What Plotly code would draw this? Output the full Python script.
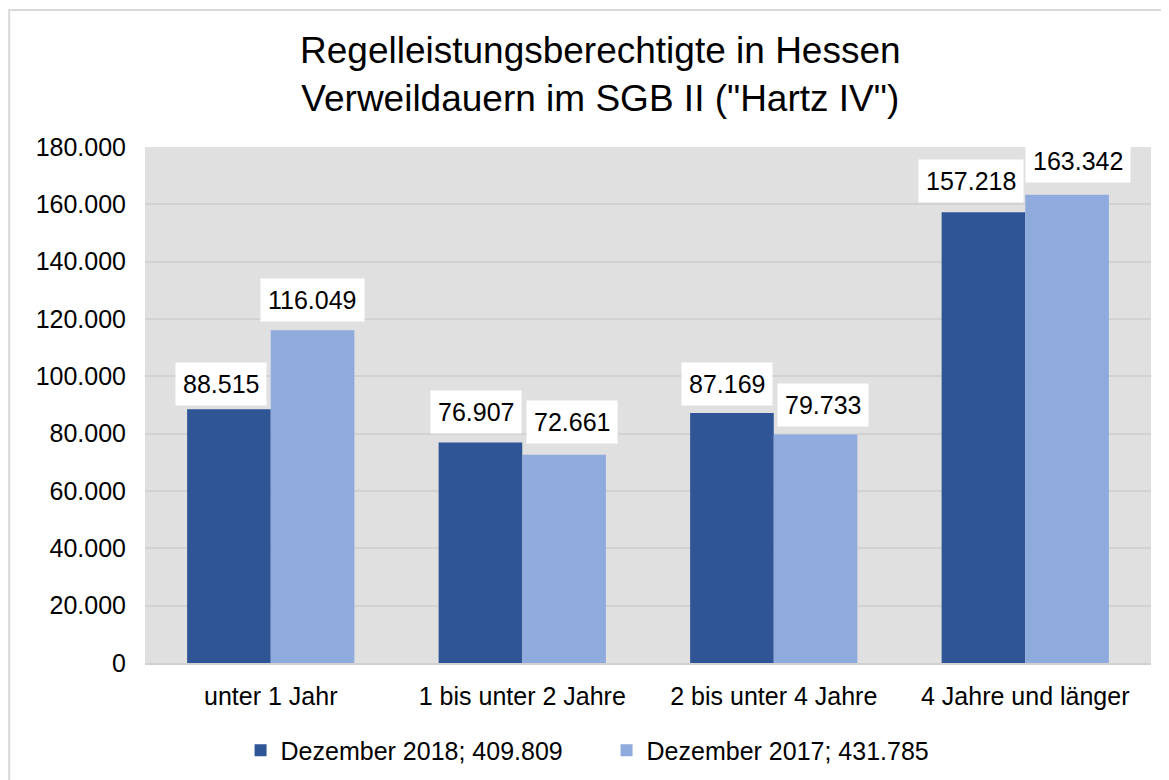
import plotly.graph_objects as go

categories = ["unter 1 Jahr", "1 bis unter 2 Jahre", "2 bis unter 4 Jahre", "4 Jahre und länger"]
dez2018 = [88515, 76907, 87169, 157218]
dez2017 = [116049, 72661, 79733, 163342]
name2018 = "Dezember 2018; 409.809"
name2017 = "Dezember 2017; 431.785"
tickvals = [0, 20000, 40000, 60000, 80000, 100000, 120000, 140000, 160000, 180000]
ticktext = ["0", "20.000", "40.000", "60.000", "80.000", "100.000", "120.000", "140.000", "160.000", "180.000"]
title_text = "Regelleistungsberechtigte in Hessen<br>Verweildauern im SGB II (\"Hartz IV\")"

def fmt(v):
    return f"{v:,}".replace(",", ".")

FONT = "Liberation Sans, Arial, sans-serif"
DARK = "#2F5597"
LIGHT = "#8FAADC"

fig = go.Figure()
fig.add_bar(x=categories, y=dez2018, name=name2018, marker=dict(color=DARK, line=dict(width=0)))
fig.add_bar(x=categories, y=dez2017, name=name2017, marker=dict(color=LIGHT, line=dict(width=0)))

# label offsets (pixels) from category center / bar top
shift18 = [-50, -46, -47, -54]
shift17 = [42, 50, 49, 53]
gap18 = [3, 9, 7, 9]
gap17 = [8, 11, 7, 12]
annots = []
for i, c in enumerate(categories):
    annots.append(dict(x=c, y=dez2018[i], text=fmt(dez2018[i]), showarrow=False, xshift=shift18[i],
                       yanchor="bottom", yshift=gap18[i], bgcolor="white", borderpad=7,
                       font=dict(family=FONT, size=25, color="black")))
    annots.append(dict(x=c, y=dez2017[i], text=fmt(dez2017[i]), showarrow=False, xshift=shift17[i],
                       yanchor="bottom", yshift=gap17[i], bgcolor="white", borderpad=7,
                       font=dict(family=FONT, size=25, color="black")))
annots.append(dict(xref="paper", yref="paper", x=0.453, y=1.14, xanchor="center", yanchor="middle",
                   text=title_text, showarrow=False,
                   font=dict(family=FONT, size=37, color="black")))

fig.update_layout(
    width=1169, height=780,
    margin=dict(l=137, r=26, t=139, b=125),
    paper_bgcolor="white",
    plot_bgcolor="#E0E0E0",
    barmode="group",
    bargap=0.335,
    bargroupgap=0,
    font=dict(family=FONT, color="black"),
    xaxis=dict(tickfont=dict(family=FONT, size=25, color="black"), showgrid=False, ticks="",
               showline=True, linecolor="#D0D0D0", linewidth=2, ticklabelstandoff=10),
    yaxis=dict(range=[0, 180000], tickvals=tickvals, ticktext=ticktext,
               tickfont=dict(family=FONT, size=25, color="black"),
               gridcolor="#D2D2D2", gridwidth=2, zeroline=False, ticks="", ticklabelstandoff=18),
    legend=dict(orientation="h", x=0.095, xanchor="left", y=-0.125, yanchor="top",
                font=dict(family=FONT, size=25, color="black"), traceorder="normal",
                itemwidth=30, entrywidthmode="pixels", entrywidth=321),
    annotations=annots,
    showlegend=True,
)
fig.add_shape(type="rect", xref="paper", yref="paper", x0=-0.135, x1=1.05, y0=-0.3, y1=1.2655,
              line=dict(color="#D9D9D9", width=2), layer="below")

fig.write_html("out.html")
